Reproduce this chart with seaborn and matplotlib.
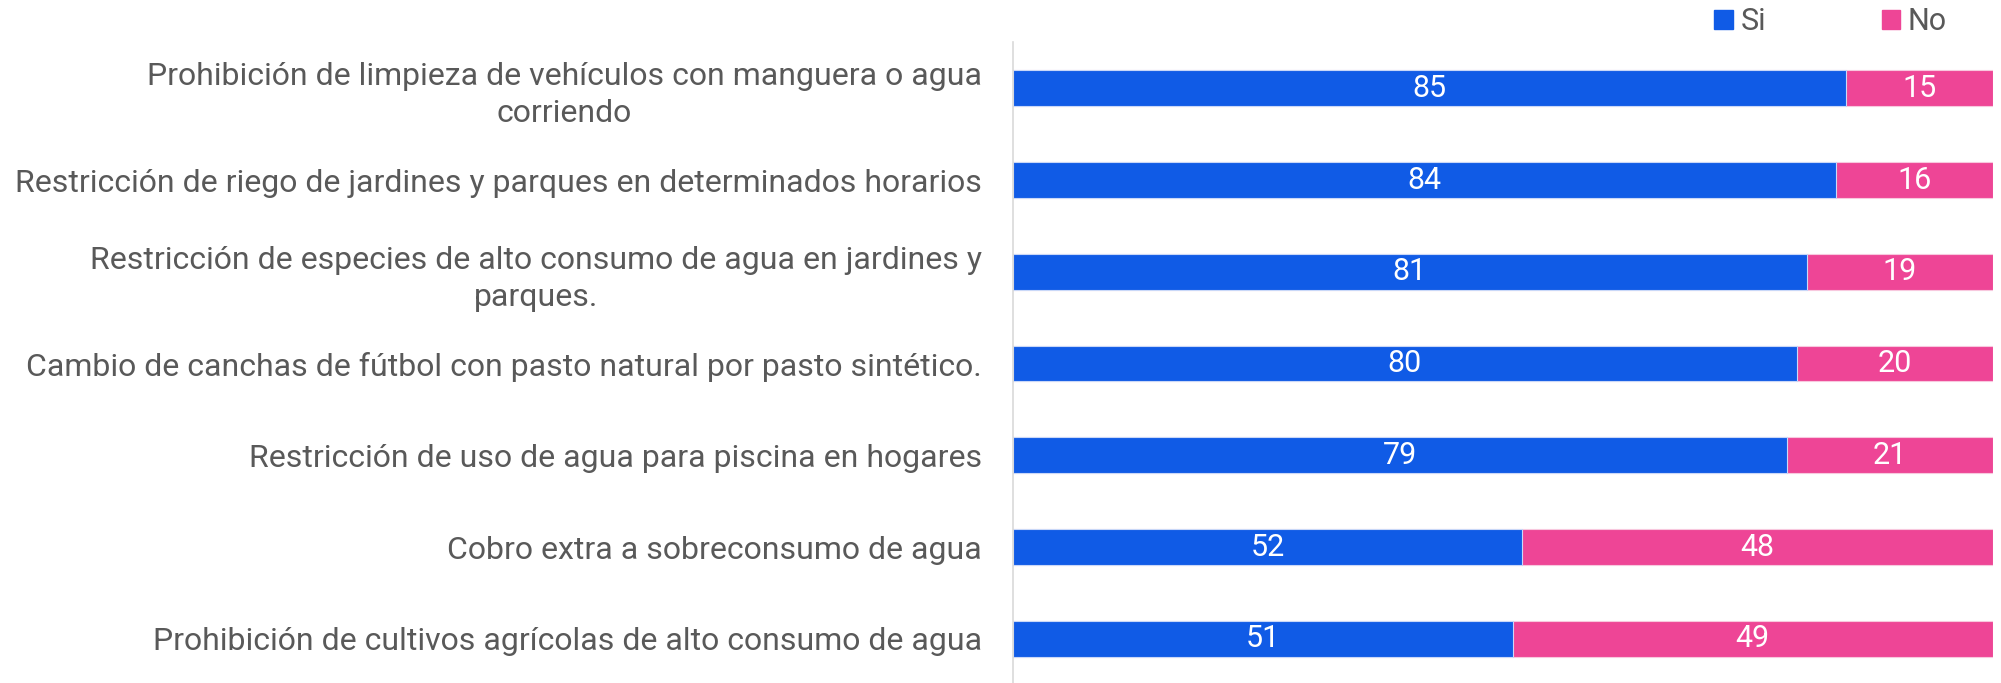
import pandas as pd
import matplotlib.pyplot as plt
import seaborn as sns
from matplotlib.patches import Patch

categories = [
    "Prohibición de limpieza de vehículos con manguera o agua\ncorriendo",
    "Restricción de riego de jardines y parques en determinados horarios",
    "Restricción de especies de alto consumo de agua en jardines y\nparques.",
    "Cambio de canchas de fútbol con pasto natural por pasto sintético.",
    "Restricción de uso de agua para piscina en hogares",
    "Cobro extra a sobreconsumo de agua",
    "Prohibición de cultivos agrícolas de alto consumo de agua",
]
si = [85, 84, 81, 80, 79, 52, 51]
no = [15, 16, 19, 20, 21, 48, 49]

blue = "#105BE6"
pink = "#EE4596"
grey_text = "#595959"

df = pd.DataFrame({"cat": categories, "si": si, "no": no})
df["total"] = df["si"] + df["no"]

sns.set_style("white")
plt.rcParams["font.family"] = ["Roboto", "DejaVu Sans"]

fig = plt.figure(figsize=(20.01, 6.83), dpi=100)
ax = fig.add_axes([0.506, 0.0, 0.49, 0.938])

sns.barplot(data=df, y="cat", x="total", color=pink, width=0.39,
            edgecolor="#F8C8DE", linewidth=0.8, ax=ax, saturation=1)
sns.barplot(data=df, y="cat", x="si", color=blue, width=0.39,
            edgecolor="#C9D8F8", linewidth=0.8, ax=ax, saturation=1)

for i, row in df.iterrows():
    ax.text(row["si"] / 2, i, str(row["si"]), color="white", fontsize=22,
            ha="center", va="center")
    ax.text(row["si"] + row["no"] / 2, i, str(row["no"]), color="white",
            fontsize=22, ha="center", va="center")

ax.set_xlim(0, 100)
ax.set_ylim(6.48, -0.5)
ax.set_xlabel("")
ax.set_ylabel("")
ax.set_xticks([])
ax.tick_params(axis="y", length=0, pad=22, labelsize=23, labelcolor=grey_text)
for lab in ax.get_yticklabels():
    lab.set_multialignment("center")
    lab.set_linespacing(1.35)

for s in ["top", "right", "bottom"]:
    ax.spines[s].set_visible(False)
ax.spines["left"].set_color("#D9D9D9")
ax.spines["left"].set_linewidth(1.2)

handles = [Patch(color=blue, label="Si"), Patch(color=pink, label="No")]
fig.legend(handles=handles, loc="upper left", bbox_to_anchor=(0.843, 1.03),
           ncol=2, frameon=False, fontsize=22, labelcolor=grey_text,
           handlelength=0.6, handleheight=0.6, handletextpad=0.25,
           columnspacing=3.8)

plt.savefig("out.png", dpi=100)
